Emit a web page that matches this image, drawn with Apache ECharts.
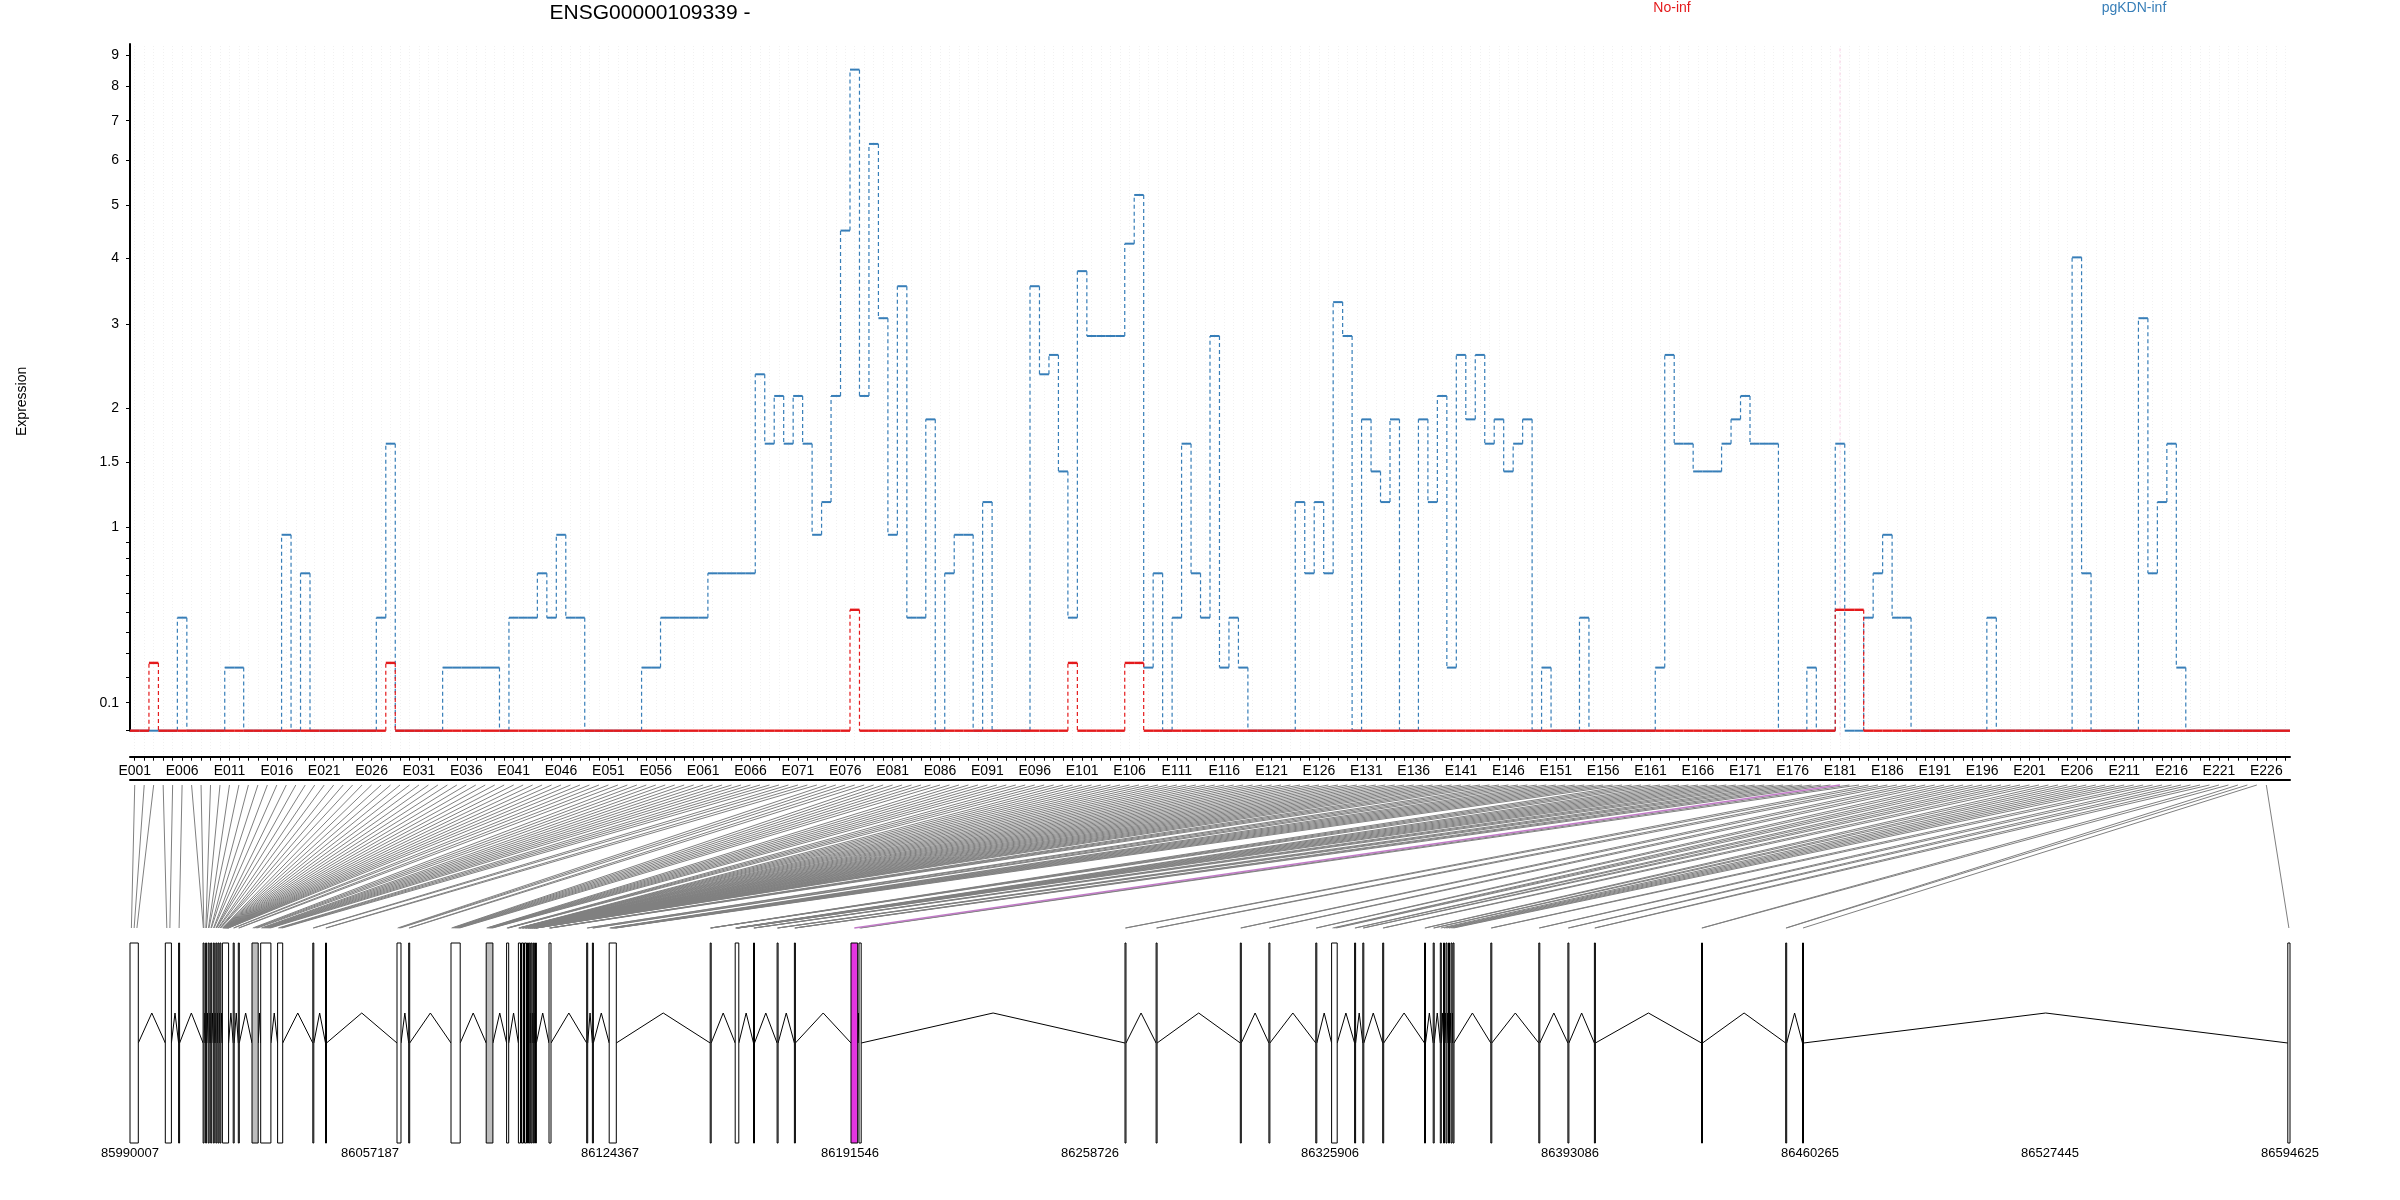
<!DOCTYPE html>
<html><head><meta charset="utf-8">
<script src="https://cdn.jsdelivr.net/npm/echarts@6/dist/echarts.min.js"></script>
<style>html,body{margin:0;padding:0;background:#fff}#c{width:2400px;height:1200px}</style>
</head><body><div id="c"></div>
<script>
// ---------------- DATA ----------------
const geneTitle = 'ENSG00000109339 -';
const conditionNames = ['No-inf', 'pgKDN-inf'];
const exonIds = Array.from({length: 226}, (_, i) => 'E' + String(i + 1).padStart(3, '0'));
const exonLabelIds = exonIds.filter((_, i) => i % 5 === 0);

// pgKDN-inf expression per exon (E001..E226)
const pgKDNValues = [
 0,0,0,0,0,0.47,0,0,0,0,
 0.24,0.24,0,0,0,0,0.95,0,0.71,0,
 0,0,0,0,0,0,0.47,1.66,0,0,
 0,0,0,0.24,0.24,0.24,0.24,0.24,0.24,0,
 0.47,0.47,0.47,0.71,0.47,0.95,0.47,0.47,0,0,
 0,0,0,0,0.24,0.24,0.47,0.47,0.47,0.47,
 0.47,0.71,0.71,0.71,0.71,0.71,2.37,1.66,2.13,1.66,
 2.13,1.66,0.95,1.18,2.13,4.50,8.52,2.13,6.39,3.08,
 0.95,3.55,0.47,0.47,1.89,0,0.71,0.95,0.95,0,
 1.18,0,0,0,0,3.55,2.37,2.60,1.42,0.47,
 3.79,2.84,2.84,2.84,2.84,4.26,5.21,0.24,0.71,0,
 0.47,1.66,0.71,0.47,2.84,0.24,0.47,0.24,0,0,
 0,0,0,1.18,0.71,1.18,0.71,3.31,2.84,0,
 1.89,1.42,1.18,1.89,0,0,1.89,1.18,2.13,0.24,
 2.60,1.89,2.60,1.66,1.89,1.42,1.66,1.89,0,0.24,
 0,0,0,0.47,0,0,0,0,0,0,
 0,0.24,2.60,1.66,1.66,1.42,1.42,1.42,1.66,1.89,
 2.13,1.66,1.66,1.66,0,0,0,0.24,0,0,
 1.66,0,0,0.47,0.71,0.95,0.47,0.47,0,0,
 0,0,0,0,0,0,0.47,0,0,0,
 0,0,0,0,0,4.02,0.71,0,0,0,
 0,0,3.08,0.71,1.18,1.66,0.24,0,0,0,
 0,0,0,0,0,0
];
// No-inf expression per exon (E001..E226)
const noInfValues = [
 0,0,0.26,0,0,0,0,0,0,0,
 0,0,0,0,0,0,0,0,0,0,
 0,0,0,0,0,0,0,0.26,0,0,
 0,0,0,0,0,0,0,0,0,0,
 0,0,0,0,0,0,0,0,0,0,
 0,0,0,0,0,0,0,0,0,0,
 0,0,0,0,0,0,0,0,0,0,
 0,0,0,0,0,0,0.51,0,0,0,
 0,0,0,0,0,0,0,0,0,0,
 0,0,0,0,0,0,0,0,0,0.26,
 0,0,0,0,0,0.26,0.26,0,0,0,
 0,0,0,0,0,0,0,0,0,0,
 0,0,0,0,0,0,0,0,0,0,
 0,0,0,0,0,0,0,0,0,0,
 0,0,0,0,0,0,0,0,0,0,
 0,0,0,0,0,0,0,0,0,0,
 0,0,0,0,0,0,0,0,0,0,
 0,0,0,0,0,0,0,0,0,0,
 0.51,0.51,0.51,0,0,0,0,0,0,0,
 0,0,0,0,0,0,0,0,0,0,
 0,0,0,0,0,0,0,0,0,0,
 0,0,0,0,0,0,0,0,0,0,
 0,0,0,0,0,0
];
const highlightExon = 181;

const yTickLabels = [0.1, 1, 1.5, 2, 3, 4, 5, 6, 7, 8, 9];
const yMinorTicks = [0, 0.2, 0.3, 0.4, 0.5, 0.6, 0.7, 0.8, 0.9];
const genomicTicks = [85990007, 86057187, 86124367, 86191546, 86258726, 86325906, 86393086, 86460265, 86527445, 86594625];

// exonic loci on the genome (start, end) and number of exon bins in each
const locusStart = [85990007,85999888,86003611,86010469,86011169,86011896,86012596,86013324,86014024,86014612,86015171,86015871,86018894,86020322,86024157,86026592,86031323,86041176,86044731,86064745,86068019,86079860,86089713,86095423,86098727,86099594,86100434,86101274,86101778,86102309,86102925,86103513,86107292,86117845,86119440,86124143,86152414,86159412,86164535,86171141,86175983,86191826,86194066,86268523,86277229,86300798,86308803,86321930,86326354,86332792,86335088,86340658,86352358,86354794,86356781,86357677,86358377,86359077,86359776,86360336,86370917,86384353,86392498,86399916,86429895,86453464,86458167,86594012];
const locusEnd = [85992330,86001596,86003891,86010749,86011449,86012176,86012876,86013604,86014304,86014892,86015451,86017607,86019174,86020602,86025892,86029447,86032750,86041456,86045011,86065864,86068299,86082435,86091588,86096011,86099314,86100154,86100994,86101554,86102057,86102589,86103205,86103765,86107852,86118125,86119720,86126130,86152694,86160420,86164815,86171421,86176263,86193699,86194682,86268803,86277509,86301078,86309083,86322211,86327921,86333072,86335368,86340938,86352638,86355074,86357061,86357957,86358656,86359356,86360056,86360616,86371197,86384633,86392778,86400196,86430175,86453744,86458447,86594625];
const locusBins = [3,2,1,2,2,2,2,2,3,2,3,24,2,2,4,9,4,2,2,3,2,8,8,4,6,6,6,5,5,5,5,5,4,2,2,9,4,9,3,3,3,1,2,2,2,2,2,2,3,2,2,2,2,2,1,1,1,1,1,1,2,2,2,2,2,2,1,1];
const shadedLoci = [15, 23, 26, 27];
const highlightLocus = 42;

// ---------------- STYLE / LAYOUT ----------------
const FONT = 'Liberation Sans, Arial, Helvetica, sans-serif';
const RED = '#E41A1C', BLUE = '#377EB8';
const PLOT_L = 130, PLOT_R = 110;
const slotMin = 0.5, slotMax = 228.5;
const gMin = genomicTicks[0], gMax = genomicTicks[genomicTicks.length - 1];
const tf = v => Math.log10(v + 1);

// exon bin midpoints on genome
const exonMid = [];
locusStart.forEach((s, k) => {
  const e = locusEnd[k], n = locusBins[k];
  for (let j = 0; j < n; j++) exonMid.push(s + (j + 0.5) * (e - s) / n);
});
const slotToGenome = i => gMin + (i - slotMin) / (slotMax - slotMin) * (gMax - gMin);

function stepSegments(vals) {
  const segs = [];
  for (let i = 0; i < vals.length; i++) {
    const next = i + 1 < vals.length ? vals[i + 1] : 0;
    segs.push([i + 0.5, i + 1.5, tf(vals[i]), tf(next)]);
  }
  segs.push([vals.length + 0.5, slotMax, 0, 0]);
  return segs;
}
function stepRender(color, hw, vw) {
  return function (params, api) {
    const x0 = api.value(0), x1 = api.value(1), t = api.value(2), tn = api.value(3);
    const a = api.coord([x0, t]), b = api.coord([x1, t]);
    const ch = [];
    if (tn !== t) {
      const c = api.coord([x1, tn]);
      ch.push({type: 'line', shape: {x1: b[0], y1: b[1], x2: c[0], y2: c[1]}, style: {stroke: color, lineWidth: vw, lineDash: [4, 3]}});
    }
    ch.push({type: 'line', shape: {x1: a[0], y1: a[1], x2: b[0], y2: b[1]}, style: {stroke: color, lineWidth: hw}});
    return {type: 'group', children: ch};
  };
}

const allYTicks = yMinorTicks.concat(yTickLabels).map(tf);
const slotTicks = Array.from({length: 228}, (_, i) => i + 1);
const labelSlots = exonLabelIds.map(id => exonIds.indexOf(id) + 1);

const connectorData = [], connectorHi = [];
exonIds.forEach((id, i) => {
  const item = [slotToGenome(i + 1), exonMid[i]];
  if (i + 1 === highlightExon) connectorHi.push(item); else connectorData.push(item);
});
const intronData = [];
for (let k = 0; k < locusStart.length - 1; k++) intronData.push([locusEnd[k], locusStart[k + 1]]);
const locusData = locusStart.map((s, k) => [s, locusEnd[k], shadedLoci.includes(k + 1) ? 1 : 0, (k + 1) === highlightLocus ? 1 : 0]);

const chart = echarts.init(document.getElementById('c'), null, {renderer: 'canvas'});
chart.setOption({
  animation: false,
  backgroundColor: '#fff',
  textStyle: {fontFamily: FONT},
  title: [
    {text: geneTitle, left: 650, top: 3, textAlign: 'center', padding: 0, textStyle: {fontSize: 21, fontWeight: 'normal', color: '#000', fontFamily: FONT}},
    {text: conditionNames[0], left: 1672, top: 1, textAlign: 'center', padding: 0, textStyle: {fontSize: 14, fontWeight: 'normal', color: RED, fontFamily: FONT}},
    {text: conditionNames[1], left: 2134, top: 1, textAlign: 'center', padding: 0, textStyle: {fontSize: 14, fontWeight: 'normal', color: BLUE, fontFamily: FONT}}
  ],
  grid: [
    {left: PLOT_L, right: PLOT_R, top: 44, bottom: 1200 - 730.7},
    {left: PLOT_L, right: PLOT_R, top: 46, bottom: 1200 - 756.7},
    {left: PLOT_L, right: PLOT_R, top: 780, bottom: 1200 - 1143}
  ],
  xAxis: [
    {gridIndex: 0, type: 'value', min: slotMin, max: slotMax, show: false},
    {gridIndex: 1, type: 'value', min: slotMin, max: slotMax,
      axisLine: {show: true, lineStyle: {color: '#000', width: 2}},
      axisTick: {show: true, customValues: slotTicks, length: 4, lineStyle: {color: '#000', width: 1}},
      axisLabel: {show: true, customValues: labelSlots, formatter: v => exonIds[Math.round(v) - 1] || '', fontSize: 14, color: '#000', margin: 7, fontFamily: FONT},
      splitLine: {show: true, lineStyle: {color: '#f1f1f1', type: [1, 2], width: 1}}},
    {gridIndex: 2, type: 'value', min: gMin, max: gMax,
      axisLine: {show: true, lineStyle: {color: '#000', width: 2}},
      axisTick: {show: false},
      axisLabel: {show: true, customValues: genomicTicks, formatter: v => String(Math.round(v)), fontSize: 13, color: '#000', margin: 4, fontFamily: FONT},
      splitLine: {show: false}}
  ],
  yAxis: [
    {gridIndex: 0, type: 'value', min: 0, max: (730.7 - 44) / 675.5,
      name: 'Expression', nameLocation: 'middle', nameRotate: 90, nameGap: 101,
      nameTextStyle: {fontSize: 14, color: '#000', fontFamily: FONT, padding: [0, 28, 0, 0]},
      axisLine: {show: true, lineStyle: {color: '#000', width: 2}},
      axisTick: {show: true, customValues: allYTicks, length: 4, lineStyle: {color: '#000'}},
      axisLabel: {show: true, customValues: yTickLabels.map(tf), fontSize: 14, color: '#000', margin: 11, fontFamily: FONT,
        formatter: v => { const k = yTickLabels.findIndex(x => Math.abs(tf(x) - v) < 1e-6); return k >= 0 ? String(yTickLabels[k]) : ''; }},
      splitLine: {show: false}},
    {gridIndex: 1, type: 'value', min: 0, max: 1, show: false},
    {gridIndex: 2, type: 'value', min: 0, max: 363, inverse: true, show: false}
  ],
  series: [
    {type: 'custom', xAxisIndex: 1, yAxisIndex: 1, silent: true, data: [[highlightExon]],
      renderItem: (p, api) => { const a = api.coord([api.value(0), 0.03]), b = api.coord([api.value(0), 1]);
        return {type: 'line', shape: {x1: a[0], y1: a[1], x2: b[0], y2: b[1]}, style: {stroke: '#fad0e6', lineWidth: 1, lineDash: [3, 3]}}; }},
    {type: 'custom', xAxisIndex: 0, yAxisIndex: 0, silent: true, data: stepSegments(pgKDNValues), renderItem: stepRender(BLUE, 2, 1.2)},
    {type: 'custom', xAxisIndex: 0, yAxisIndex: 0, silent: true, data: stepSegments(noInfValues), renderItem: stepRender(RED, 2.4, 1.2)},
    {type: 'custom', xAxisIndex: 2, yAxisIndex: 2, silent: true, data: connectorData,
      renderItem: (p, api) => { const a = api.coord([api.value(0), 5]), b = api.coord([api.value(1), 148]);
        return {type: 'line', shape: {x1: a[0], y1: a[1], x2: b[0], y2: b[1]}, style: {stroke: '#808080', lineWidth: 1}}; }},
    {type: 'custom', xAxisIndex: 2, yAxisIndex: 2, silent: true, data: connectorHi,
      renderItem: (p, api) => { const a = api.coord([api.value(0), 5]), b = api.coord([api.value(1), 148]);
        return {type: 'line', shape: {x1: a[0], y1: a[1], x2: b[0], y2: b[1]}, style: {stroke: '#c27bc8', lineWidth: 1.5}}; }},
    {type: 'custom', xAxisIndex: 2, yAxisIndex: 2, silent: true, data: intronData,
      renderItem: (p, api) => { const s = api.value(0), e = api.value(1);
        const a = api.coord([s, 263]), m = api.coord([(s + e) / 2, 233]), b = api.coord([e, 263]);
        return {type: 'polyline', shape: {points: [a, m, b]}, style: {stroke: '#000', lineWidth: 1, fill: null}}; }},
    {type: 'custom', xAxisIndex: 2, yAxisIndex: 2, silent: true, data: locusData,
      renderItem: (p, api) => { const a = api.coord([api.value(0), 163]), b = api.coord([api.value(1), 363]);
        const w = Math.max(b[0] - a[0], 0.5);
        const fill = api.value(3) ? '#e535e0' : (api.value(2) ? '#bdbdbd' : '#fff');
        return {type: 'rect', shape: {x: a[0], y: a[1], width: w, height: b[1] - a[1]}, style: {fill, stroke: '#000', lineWidth: 1}}; }}
  ]
});
</script></body></html>
